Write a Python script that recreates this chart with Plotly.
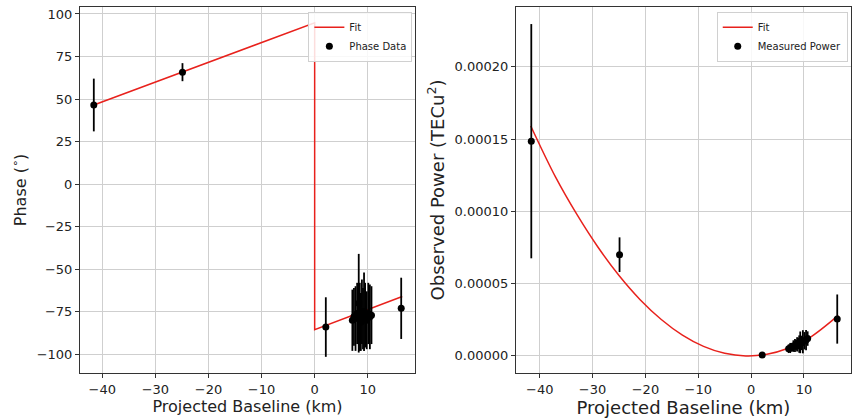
import plotly.graph_objects as go

# baselines (km) shared by both panels
baseline = [-41.6, -24.9, 2.1,
            7.1, 7.4, 7.7, 8.0, 8.3, 8.5, 8.7, 8.9,
            9.1, 9.3, 9.5, 9.8, 10.1, 10.4, 10.7, 16.3]

# left panel: phase data (deg)
phase = [46.5, 65.8, -84.0,
         -80, -78, -79, -76, -70, -78, -81, -75,
         -79, -75, -77, -80, -76, -78, -77, -73.0]
phase_err = [15.5, 5.3, 17.5,
             18, 17, 19, 18, 29, 20, 17, 19,
             18, 23, 19, 17, 18, 19, 17, 18.0]

# left panel: fit line
phase_fit_x = [-41.6, 0.0, 0.0, 16.5]
phase_fit_y = [46.5, 94.8, -85.5, -66.0]

# right panel: measured power (TECu^2)
power = [1.485e-4, 7.0e-5, 7e-7,
         5.0e-6, 5.5e-6, 6.0e-6, 6.8e-6, 7.2e-6, 7.5e-6, 8.0e-6, 8.6e-6,
         8.2e-6, 9.4e-6, 9.0e-6, 9.8e-6, 1.05e-5, 1.1e-5, 1.2e-5, 2.55e-5]
power_err = [8.1e-5, 1.2e-5, 1.0e-6,
             3.0e-6, 3.5e-6, 3.0e-6, 4.0e-6, 4.5e-6, 3.5e-6, 5.0e-6, 4.0e-6,
             6.0e-6, 7.5e-6, 5.0e-6, 8.0e-6, 6.0e-6, 7.0e-6, 5.0e-6, 1.7e-5]

# right panel: fit curve samples
power_fit_x = [-41.7, -37, -33, -29, -25, -21, -17, -13, -9, -5, -1, 3, 7, 11, 16.5]
power_fit_y = [1.59e-4, 1.236e-4, 9.80e-5, 7.53e-5, 5.56e-5, 3.89e-5, 2.52e-5,
               1.44e-5, 6.6e-6, 1.8e-6, 0.0, 1.1e-6, 5.3e-6, 1.24e-5, 2.8e-5]

FONT = "DejaVu Sans"
RED = "#e8211c"

fig = go.Figure()

fig.add_trace(go.Scatter(
    x=phase_fit_x, y=phase_fit_y, mode="lines", name="Fit",
    line=dict(color=RED, width=1.5), xaxis="x", yaxis="y", legend="legend",
))
fig.add_trace(go.Scatter(
    x=baseline, y=phase, mode="markers", name="Phase Data",
    marker=dict(color="black", size=7),
    error_y=dict(type="data", array=phase_err, color="black", thickness=1.8, width=0),
    xaxis="x", yaxis="y", legend="legend",
))
fig.add_trace(go.Scatter(
    x=power_fit_x, y=power_fit_y, mode="lines", name="Fit",
    line=dict(color=RED, width=1.5, shape="spline"), xaxis="x2", yaxis="y2",
    legend="legend2",
))
fig.add_trace(go.Scatter(
    x=baseline, y=power, mode="markers", name="Measured Power",
    marker=dict(color="black", size=7),
    error_y=dict(type="data", array=power_err, color="black", thickness=1.8, width=0),
    xaxis="x2", yaxis="y2", legend="legend2",
))

axis_common = dict(
    showline=True, mirror=True, linecolor="#333", linewidth=1,
    ticks="outside", ticklen=4, tickcolor="#333",
    showgrid=True, gridcolor="#cfcfcf", gridwidth=1, zeroline=False,
    tickfont=dict(family=FONT, size=13, color="#222"),
)

legend_common = dict(
    bgcolor="rgba(255,255,255,0.85)", bordercolor="#d0d0d0", borderwidth=1,
    font=dict(family=FONT, size=10, color="#222"),
    xanchor="right", yanchor="top", tracegroupgap=0,
)

fig.update_layout(
    width=852, height=419,
    margin=dict(l=0, r=0, t=0, b=0),
    paper_bgcolor="white", plot_bgcolor="white",
    font=dict(family=FONT, color="#222"),
    xaxis=dict(
        axis_common, domain=[0.0939, 0.4871], range=[-44.2, 18.9],
        dtick=10, tick0=0,
        title=dict(text="Projected Baseline (km)", font=dict(family=FONT, size=16), standoff=3),
        anchor="y",
    ),
    yaxis=dict(
        axis_common, domain=[0.1098, 0.9833], range=[-111.0, 104.1],
        dtick=25, tick0=0,
        title=dict(text="Phase (<sup>∘</sup>)", font=dict(family=FONT, size=16), standoff=6),
        anchor="x",
    ),
    xaxis2=dict(
        axis_common, domain=[0.6056, 0.9988], range=[-44.5, 18.9],
        dtick=10, tick0=0,
        title=dict(text="Projected Baseline (km)", font=dict(family=FONT, size=18), standoff=1),
        anchor="y2",
    ),
    yaxis2=dict(
        axis_common, domain=[0.1098, 0.9833], range=[-1.18e-5, 2.413e-4],
        dtick=5e-5, tick0=0, tickformat=".5f",
        title=dict(text="Observed Power (TECu<sup>2</sup>)", font=dict(family=FONT, size=18), standoff=5),
        anchor="x2",
    ),
    legend=dict(legend_common, x=0.484, y=0.972),
    legend2=dict(legend_common, x=0.995, y=0.972),
)

# the page body has an 8px margin by default, drop it so the figure fills the window
fig.write_html(
    "out.html",
    config={"displayModeBar": False},
    post_script="document.body.style.margin='0';",
)
